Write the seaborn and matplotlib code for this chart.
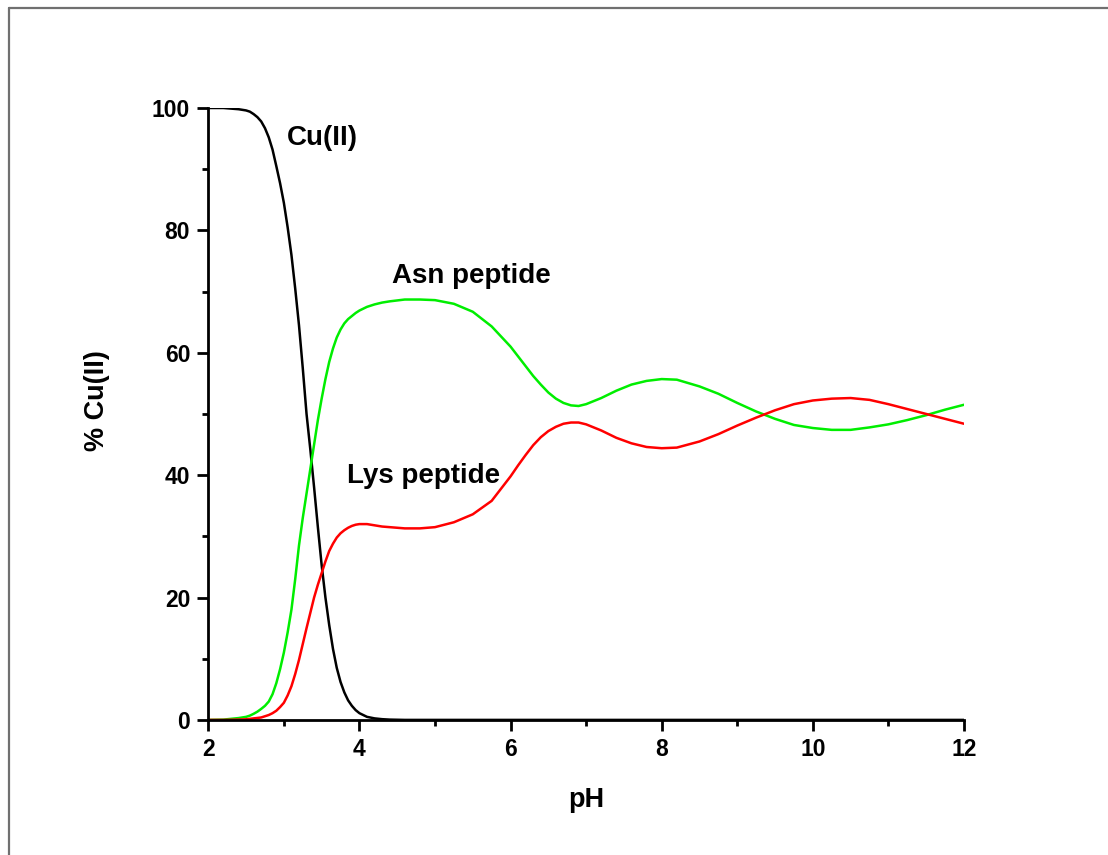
"""
Copper(II) speciation vs pH, Asn / Lys peptides.
Values read off the reference picture.
"""
import numpy as np
import pandas as pd
import matplotlib
matplotlib.use("Agg")
import matplotlib.pyplot as plt
from matplotlib.lines import Line2D
from matplotlib.ticker import MultipleLocator, AutoMinorLocator
import seaborn as sns

# pH grid (shared by all three curves)
ph = [2.0, 2.2, 2.4, 2.5, 2.55, 2.6, 2.65, 2.7, 2.75, 2.8, 2.85, 2.9, 2.95,
      3.0, 3.05, 3.1, 3.15, 3.2, 3.25, 3.3, 3.35, 3.4, 3.45, 3.5, 3.55, 3.6,
      3.65, 3.7, 3.75, 3.8, 3.85, 3.9, 3.95, 4.0, 4.1, 4.2, 4.3, 4.4, 4.6,
      4.8, 5.0, 5.25, 5.5, 5.75, 6.0, 6.1, 6.2, 6.3, 6.4, 6.5, 6.6, 6.7, 6.8,
      6.9, 7.0, 7.1, 7.2, 7.4, 7.6, 7.8, 8.0, 8.2, 8.5, 8.75, 9.0, 9.25, 9.5,
      9.75, 10.0, 10.25, 10.5, 10.75, 11.0, 11.25, 11.5, 11.75, 12.0]

cu_free = [100, 100, 99.8, 99.6, 99.4, 99.0, 98.5, 97.8, 96.7, 95.2, 93.2,
           90.5, 87.7, 84.5, 80.5, 76.0, 70.5, 64.5, 57.5, 50.0, 44.2, 38.0,
           31.5, 25.3, 20.0, 15.5, 11.6, 8.5, 6.2, 4.5, 3.2, 2.3, 1.6, 1.1,
           0.5, 0.25, 0.12, 0.05, 0, 0, 0, 0, 0, 0, 0, 0, 0, 0, 0, 0, 0, 0,
           0, 0, 0, 0, 0, 0, 0, 0, 0, 0, 0, 0, 0, 0, 0, 0, 0, 0, 0, 0, 0, 0,
           0, 0, 0]

asn = [0, 0.05, 0.3, 0.5, 0.7, 1.0, 1.35, 1.8, 2.3, 3.0, 4.2, 6.0, 8.3, 11.0,
       14.3, 18.0, 23.0, 28.5, 33.0, 37.0, 41.0, 45.0, 49.0, 52.5, 55.7, 58.5,
       60.7, 62.5, 63.8, 64.8, 65.5, 66.0, 66.5, 66.9, 67.5, 67.9, 68.2, 68.4,
       68.7, 68.7, 68.6, 68.0, 66.7, 64.3, 61.0, 59.4, 57.8, 56.2, 54.8, 53.5,
       52.5, 51.8, 51.4, 51.3, 51.6, 52.1, 52.6, 53.8, 54.8, 55.4, 55.7, 55.6,
       54.5, 53.3, 51.8, 50.4, 49.2, 48.2, 47.7, 47.4, 47.4, 47.8, 48.3, 49.0,
       49.8, 50.7, 51.5]

lys = [0, 0, 0.05, 0.1, 0.17, 0.25, 0.32, 0.4, 0.6, 0.8, 1.1, 1.5, 2.1, 2.8,
       4.0, 5.5, 7.5, 9.8, 12.4, 15.0, 17.5, 20.0, 22.1, 24.0, 25.9, 27.6,
       28.8, 29.8, 30.5, 31.0, 31.4, 31.7, 31.9, 32.0, 32.0, 31.8, 31.6, 31.5,
       31.3, 31.3, 31.5, 32.3, 33.6, 35.8, 39.8, 41.6, 43.3, 44.9, 46.2, 47.2,
       47.9, 48.4, 48.6, 48.6, 48.3, 47.8, 47.3, 46.1, 45.2, 44.6, 44.4, 44.5,
       45.5, 46.7, 48.1, 49.4, 50.6, 51.6, 52.2, 52.5, 52.6, 52.3, 51.6, 50.8,
       50.0, 49.2, 48.4]

series_names = ["Cu(II)", "Asn peptide", "Lys peptide"]
colors = {"Cu(II)": "black", "Asn peptide": "#00ee00", "Lys peptide": "#ff0000"}

df = pd.concat([
    pd.DataFrame({"pH": ph, "pct": cu_free, "species": "Cu(II)"}),
    pd.DataFrame({"pH": ph, "pct": asn, "species": "Asn peptide"}),
    pd.DataFrame({"pH": ph, "pct": lys, "species": "Lys peptide"}),
])

sns.set_style("ticks")
plt.rcParams["font.family"] = ["Liberation Sans", "DejaVu Sans"]
plt.rcParams["font.weight"] = "bold"
plt.rcParams["axes.labelweight"] = "bold"
for key in ["text.color", "axes.labelcolor", "xtick.color", "ytick.color",
            "axes.edgecolor"]:
    plt.rcParams[key] = "black"

fig = plt.figure(figsize=(11.08, 8.55), dpi=100)
ax = fig.add_axes([0.188, 0.158, 0.682, 0.7157])

sns.lineplot(data=df, x="pH", y="pct", hue="species", hue_order=series_names,
             palette=colors, linewidth=1.8, legend=False, ax=ax, sort=False)

ax.set_xlim(2, 12)
ax.set_ylim(0, 100)
ax.xaxis.set_major_locator(MultipleLocator(2))
ax.xaxis.set_minor_locator(AutoMinorLocator(2))
ax.yaxis.set_major_locator(MultipleLocator(20))
ax.yaxis.set_minor_locator(AutoMinorLocator(2))
sns.despine(ax=ax)
for sp in ["left", "bottom"]:
    ax.spines[sp].set_linewidth(2.0)
ax.tick_params(which="major", length=8, width=2.0, labelsize=16.5, pad=5)
ax.tick_params(which="minor", length=4, width=2.0)

ax.set_xlabel("pH", fontsize=19.5, fontweight="bold")
ax.set_ylabel("% Cu(II)", fontsize=19.5, fontweight="bold")
ax.xaxis.set_label_coords(0.5, -0.11)
ax.yaxis.set_label_coords(-0.130, 0.522)

# curve labels
ax.text(3.045, 94.0, "Cu(II)", fontsize=20, fontweight="bold")
ax.text(4.426, 71.35, "Asn peptide", fontsize=20, fontweight="bold")
ax.text(3.83, 38.7, "Lys peptide", fontsize=20, fontweight="bold")

# grey page frame (left and top edges only visible)
fig.add_artist(Line2D([0.0081, 0.0081], [0.0, 0.9906], transform=fig.transFigure,
                      color="#707070", linewidth=1.6))
fig.add_artist(Line2D([0.0081, 1.0], [0.9906, 0.9906], transform=fig.transFigure,
                      color="#707070", linewidth=1.6))

fig.savefig("out.png", dpi=100, facecolor="white")
